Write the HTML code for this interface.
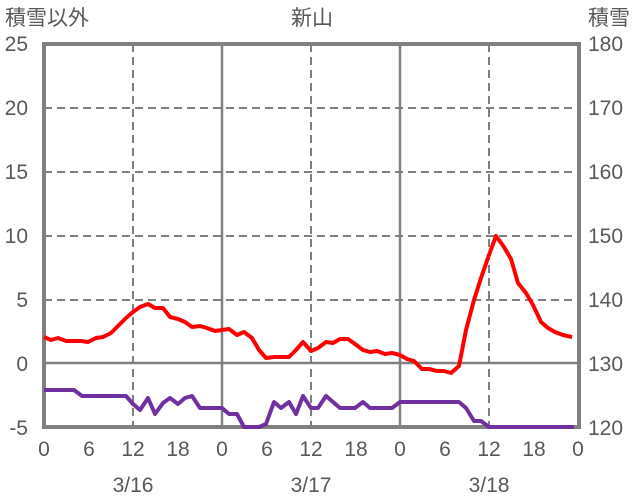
<!DOCTYPE html><html><head><meta charset="utf-8"><style>body{margin:0;background:#fff}svg{display:block}text{font-family:"Liberation Sans","Noto Sans CJK JP",sans-serif;fill:#595959;font-size:21px}</style></head><body>
<svg width="636" height="501" viewBox="0 0 636 501">
<g stroke="#808080" stroke-width="2" stroke-dasharray="8,5">
<line x1="44" y1="108" x2="579" y2="108"/><line x1="44" y1="172" x2="579" y2="172"/><line x1="44" y1="236" x2="579" y2="236"/><line x1="44" y1="300" x2="579" y2="300"/>
<line x1="133" y1="44" x2="133" y2="427"/><line x1="311" y1="44" x2="311" y2="427"/><line x1="489" y1="44" x2="489" y2="427"/></g>
<g stroke="#808080" stroke-width="2.5"><line x1="44" y1="363" x2="579" y2="363"/><line x1="222" y1="44" x2="222" y2="427"/><line x1="400" y1="44" x2="400" y2="427"/></g>
<rect x="44" y="44" width="535" height="383" fill="none" stroke="#808080" stroke-width="4"/>
<polyline fill="none" stroke="#ff0000" stroke-width="4" stroke-linejoin="round" points="44,337 51,340 58,338 66,341 73,341 81,341 88,342 96,338 103,337 111,333 118,326 126,318 133,312 140,307 148,304 155,308 163,308 170,317 178,319 185,322 192,327 200,326 207,328 215,331 222,330 229,329 237,335 244,332 252,338 259,350 266,358 274,357 281,357 289,357 296,350 303,342 311,351 318,348 326,342 333,343 340,339 348,339 355,344 363,350 370,352 377,351 385,354 392,353 400,355 407,359 414,361 422,369 429,369 437,371 444,371 451,373 459,366 466,330 474,300 481,278 489,255 496,236 504,247 511,259 518,283 526,293 533,305 541,322 548,328 555,332 563,335 572,337"/>
<polyline fill="none" stroke="#7030a0" stroke-width="4" stroke-linejoin="round" points="44,390 74,390 82,396 126,396 133,404 140,410 148,398 155,414 163,403 170,398 178,404 185,398 192,396 200,408 222,408 229,414 237,414 244,427 259,427 266,424 274,402 281,408 289,402 296,414 303,396 311,408 318,408 326,396 333,402 340,408 355,408 363,402 370,408 392,408 400,402 459,402 466,408 474,421 481,421 489,427 574,427"/>
<g text-anchor="end"><text x="28" y="51">25</text><text x="28" y="115">20</text><text x="28" y="179">15</text><text x="28" y="243">10</text><text x="28" y="307">5</text><text x="28" y="371">0</text><text x="28" y="435">-5</text></g>
<g><text x="588" y="51">180</text><text x="588" y="115">170</text><text x="588" y="179">160</text><text x="588" y="243">150</text><text x="588" y="307">140</text><text x="588" y="371">130</text><text x="588" y="435">120</text></g>
<text x="5" y="25">積雪以外</text><text x="312" y="25" text-anchor="middle">新山</text><text x="588" y="25">積雪</text>
<g text-anchor="middle"><text x="44" y="456">0</text><text x="89" y="456">6</text><text x="133" y="456">12</text><text x="178" y="456">18</text><text x="222" y="456">0</text><text x="267" y="456">6</text><text x="311" y="456">12</text><text x="356" y="456">18</text><text x="400" y="456">0</text><text x="445" y="456">6</text><text x="489" y="456">12</text><text x="534" y="456">18</text><text x="578" y="456">0</text>
<text x="133" y="492">3/16</text><text x="311" y="492">3/17</text><text x="489" y="492">3/18</text></g>
</svg></body></html>
